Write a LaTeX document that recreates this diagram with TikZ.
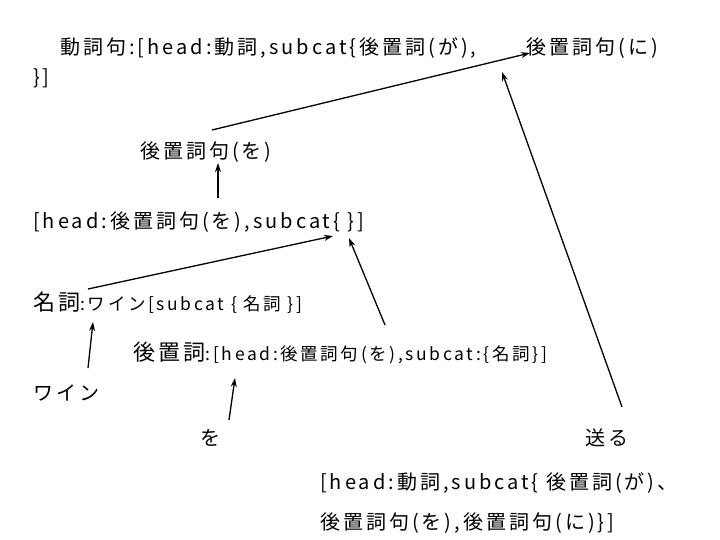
\documentclass[tikz,border=0pt]{standalone}
\usepackage{fontspec}
\setmainfont{Noto Sans CJK JP}[LetterSpace=15]
\usetikzlibrary{arrows.meta}

\newcommand{\headword}[1]{{\fontsize{22}{24}\selectfont #1}}

\begin{document}
\begin{tikzpicture}[
  x=1pt, y=-1pt,
  lbl/.style={anchor=west, inner sep=0pt, font=\fontsize{20}{22}\selectfont},
  small/.style={font=\fontsize{17.5}{20}\selectfont},
  link/.style={line width=1.3pt, -{Stealth[length=9pt, width=6pt]}},
]
\useasboundingbox (0,0) rectangle (720,540);

% feature structures
\node [lbl] (vp) at (60,48) {動詞句:[head:動詞,subcat\{後置詞(が),\hspace{50pt}後置詞句(に)};
\node [lbl] (vpend) at (33,78) {\}]};
\node [lbl] (pp) at (140,152) {後置詞句(を)};
\node [lbl] (ppfeat) at (33,222) {[head:後置詞句(を),subcat\{ \}]};
\node [lbl, small] (noun) at (33,303) {\headword{名詞}:ワイン[subcat \{ 名詞 \}]};
\node [lbl, small] (post) at (133,353) {\headword{後置詞}:[head:後置詞句(を),subcat:\{名詞\}]};

% words
\node [lbl] (wine) at (33,393) {ワイン};
\node [lbl] (wo) at (200,438) {を};
\node [lbl] (okuru) at (585,438) {送る};
\node [lbl] (vfeat) at (320,483) {[head:動詞,subcat\{ 後置詞(が)、};
\node [lbl] (vfeat2) at (320,523) {後置詞句(を),後置詞句(に)\}]};

% links
\draw [link] ([shift={(72,-22)}]pp.west) -- ([shift={(470,5)}]vp.west);
\draw [link] ([shift={(185,-24)}]ppfeat.west) -- ([shift={(78,11)}]pp.west);
\draw [link] ([shift={(55,-14)}]noun.west) -- ([shift={(300,14)}]ppfeat.west);
\draw [link] ([shift={(252,-28)}]post.west) -- ([shift={(316,16)}]ppfeat.west);
\draw [link] ([shift={(55,-25)}]wine.west) -- ([shift={(60,19)}]noun.west);
\draw [link] ([shift={(29,-18)}]wo.west) -- ([shift={(102,25)}]post.west);
\draw [link] ([shift={(37,-31)}]okuru.west) -- ([shift={(442,24)}]vp.west);
\end{tikzpicture}
\end{document}
